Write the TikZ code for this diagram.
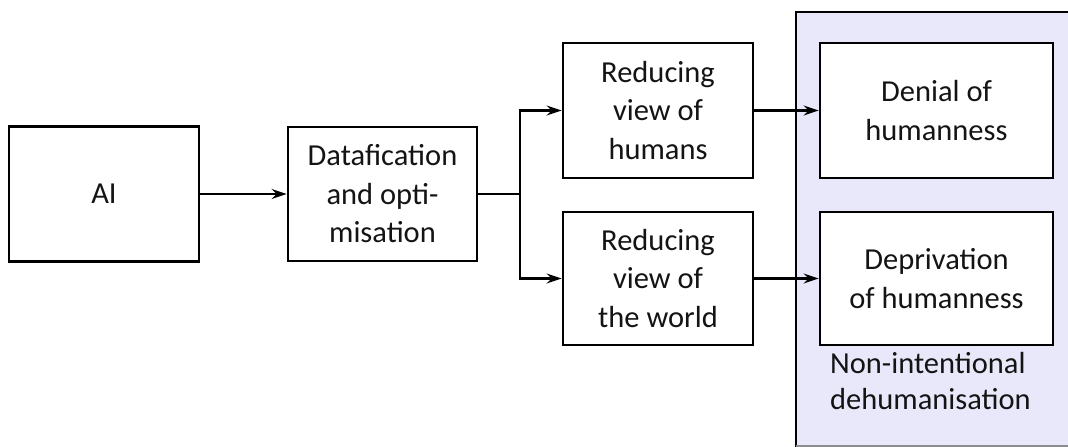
\documentclass[tikz,border=0pt]{standalone}
\usepackage{fontspec}
\setmainfont{Carlito}
\usetikzlibrary{arrows.meta}
\definecolor{regionfill}{RGB}{232,232,250}
\definecolor{ink}{RGB}{20,20,20}
\begin{document}
\begin{tikzpicture}[x=1pt,y=-1pt,
  box/.style={draw=black, line width=2.8pt, fill=white, inner sep=0pt, align=center,
    text=ink, font=\fontsize{30.5}{38.5}\selectfont},
  conn/.style={line width=2.3pt, -{Stealth[length=15pt,width=10pt,inset=5pt]}},
  plain/.style={line width=2.3pt}]
\useasboundingbox (0,0) rectangle (1068,447);
\begin{scope}
\clip (0,0) rectangle (1068,447);
\fill[regionfill] (796,12) rectangle (1090,446);
\draw[line width=2.6pt] (796,446.5) -- (796,12) -- (1090,12);
\draw[line width=1.2pt, black!45] (796,446) -- (1090,446);
\end{scope}
\node[box, minimum width=190pt, minimum height=135pt] (ai) at (104,194) {AI};
\node[box, minimum width=189pt, minimum height=134pt] (data) at (382.5,194) {Datafication\\and opti-\\misation};
\node[box, minimum width=190pt, minimum height=135pt] (hum) at (658,110.5) {Reducing\\view of\\humans};
\node[box, minimum width=190pt, minimum height=133pt] (world) at (658,278.5) {Reducing\\view of\\the world};
\node[box, minimum width=233pt, minimum height=135pt] (denial) at (936.5,110.5) {Denial of\\humanness};
\node[box, minimum width=233pt, minimum height=133pt] (depriv) at (936.5,278.5) {Deprivation\\of humanness};
\node[anchor=north west, inner sep=0pt, align=left, text=ink, font=\fontsize{30.5}{36}\selectfont] (label) at (830,352) {Non-intentional\\dehumanisation};
\coordinate (split) at (520,194);
\draw[conn] (ai.east) -- (data.west);
\draw[plain] (data.east) -- (split);
\draw[conn] (split) |- (hum.west);
\draw[conn] (split) |- (world.west);
\draw[conn] (hum.east) -- (denial.west);
\draw[conn] (world.east) -- (depriv.west);
\end{tikzpicture}
\end{document}
